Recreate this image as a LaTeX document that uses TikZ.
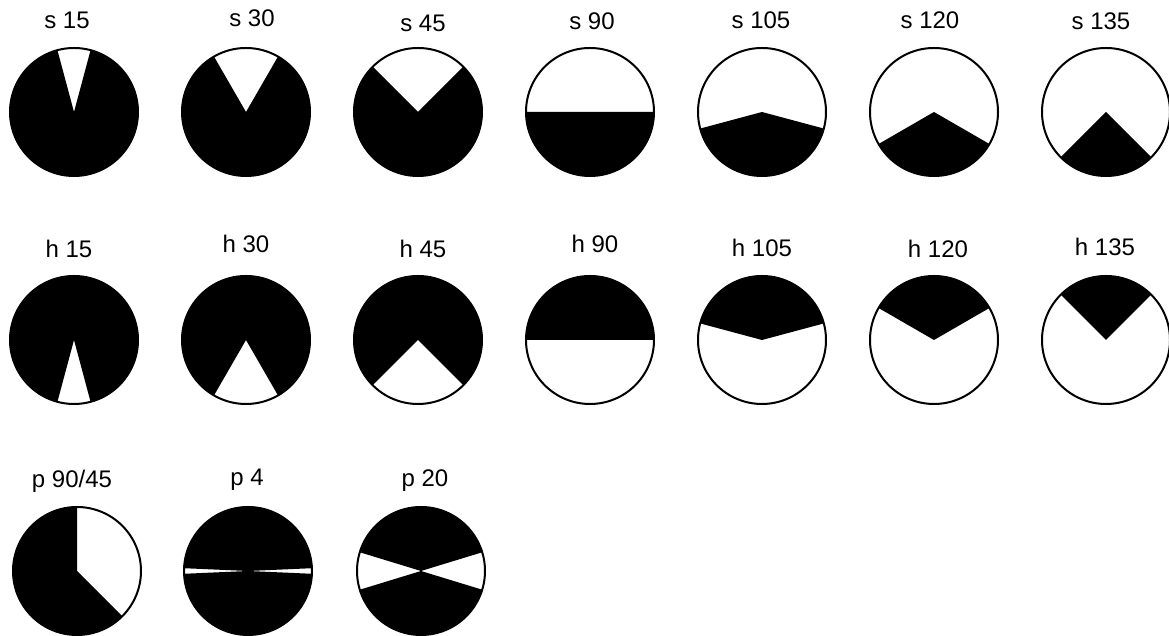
\documentclass[tikz,border=0pt]{standalone}
\usepackage{fontspec}
\setmainfont{Liberation Sans}
\begin{document}
\begin{tikzpicture}[x=0.5pt,y=0.5pt]
\tikzset{
  disc/.style={circle,draw=black,line width=1pt,minimum size=64pt,inner sep=0pt},
  lbl/.style={font=\fontsize{12}{14}\selectfont,inner sep=0pt,anchor=base},
  blk/.style={fill=black}
}
\useasboundingbox (0,0) rectangle (1169,636);
% s series: white wedge at top of half-angle n
\foreach \n/\x/\lx/\ly in {15/74/67/607, 30/246/252/609, 45/418/423/604, 90/590/592/606, 105/762/761/607, 120/934/930/607, 135/1106/1101/606} {
  \coordinate (cs\n) at (\x,524);
  \fill[blk] (cs\n) -- ++(90+\n:32pt) arc[start angle=90+\n, end angle=450-\n, radius=32pt] -- cycle;
  \node[disc] (s\n) at (cs\n) {};
  \node[lbl] (ls\n) at (\lx,\ly) {s \n};
}
% h series: white wedge at bottom of half-angle n
\foreach \n/\x/\lx/\ly in {15/74/69/378, 30/246/246/383, 45/418/423/378, 90/590/595/383, 105/762/762/379, 120/934/938/378, 135/1106/1105/380} {
  \coordinate (ch\n) at (\x,296);
  \fill[blk] (ch\n) -- ++(-90+\n:32pt) arc[start angle=-90+\n, end angle=270-\n, radius=32pt] -- cycle;
  \node[disc] (h\n) at (ch\n) {};
  \node[lbl] (lh\n) at (\lx,\ly) {h \n};
}
% p series
\coordinate (cpa) at (77,65);
\fill[blk] (cpa) -- ++(90:32pt) arc[start angle=90, end angle=315, radius=32pt] -- cycle;
\node[disc] (pa) at (cpa) {};
\node[lbl] (lpa) at (72,148) {p 90/45};

\coordinate (cpb) at (248,65);
\fill[blk] (cpb) -- ++(2.5:32pt) arc[start angle=2.5, end angle=177.5, radius=32pt] -- cycle;
\fill[blk] (cpb) -- ++(182.5:32pt) arc[start angle=182.5, end angle=357.5, radius=32pt] -- cycle;
\node[disc] (pb) at (cpb) {};
\node[lbl] (lpb) at (247,150) {p 4};

\coordinate (cpc) at (421,65);
\fill[blk] (cpc) -- ++(17:32pt) arc[start angle=17, end angle=163, radius=32pt] -- cycle;
\fill[blk] (cpc) -- ++(197:32pt) arc[start angle=197, end angle=343, radius=32pt] -- cycle;
\node[disc] (pc) at (cpc) {};
\node[lbl] (lpc) at (425,149) {p 20};
\end{tikzpicture}
\end{document}
